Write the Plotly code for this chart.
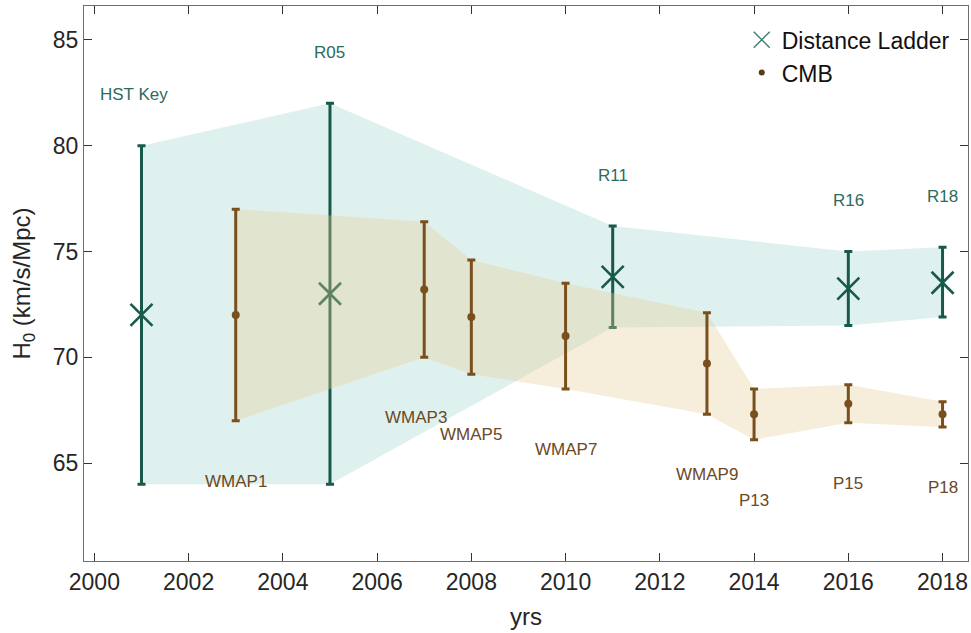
import plotly.graph_objects as go

# Distance ladder measurements
dl_names = ["HST Key", "R05", "R11", "R16", "R18"]
dl_year = [2001, 2005, 2011, 2016, 2018]
dl_h0 = [72.0, 73.0, 73.8, 73.24, 73.52]
dl_lo = [64.0, 64.0, 71.4, 71.5, 71.9]
dl_hi = [80.0, 82.0, 76.2, 75.0, 75.2]

# CMB measurements
cmb_names = ["WMAP1", "WMAP3", "WMAP5", "WMAP7", "WMAP9", "P13", "P15", "P18"]
cmb_year = [2003, 2007, 2008, 2010, 2013, 2014, 2016, 2018]
cmb_h0 = [72.0, 73.2, 71.9, 71.0, 69.7, 67.3, 67.8, 67.3]
cmb_lo = [67.0, 70.0, 69.2, 68.5, 67.3, 66.1, 66.9, 66.7]
cmb_hi = [77.0, 76.4, 74.6, 73.5, 72.1, 68.5, 68.7, 67.9]

x_ticks = [2000, 2002, 2004, 2006, 2008, 2010, 2012, 2014, 2016, 2018]
y_ticks = [65, 70, 75, 80, 85]

DL_COL = "#175a4b"
DL_TXT = "#2d6b5d"
CMB_COL = "#7a4f1e"
CMB_TXT = "#6b4826"
FONT = "Liberation Sans, Arial, sans-serif"

fig = go.Figure()

# teal band
fig.add_trace(go.Scatter(
    x=dl_year + dl_year[::-1], y=dl_hi + dl_lo[::-1],
    fill="toself", fillcolor="rgb(223,241,238)", line=dict(width=0),
    mode="lines", showlegend=False, hoverinfo="skip"))

# distance ladder points
fig.add_trace(go.Scatter(
    x=dl_year, y=dl_h0, mode="markers", name="Distance Ladder", showlegend=False,
    marker=dict(symbol="x-thin", size=22, line=dict(width=2.6, color=DL_COL), color=DL_COL),
    error_y=dict(type="data", symmetric=False,
                 array=[h - v for h, v in zip(dl_hi, dl_h0)],
                 arrayminus=[v - l for v, l in zip(dl_h0, dl_lo)],
                 color=DL_COL, thickness=3, width=4)))

# tan band (semi-transparent, over the distance ladder)
fig.add_trace(go.Scatter(
    x=cmb_year + cmb_year[::-1], y=cmb_hi + cmb_lo[::-1],
    fill="toself", fillcolor="rgba(229,205,153,0.35)", line=dict(width=0),
    mode="lines", showlegend=False, hoverinfo="skip"))

# CMB points
fig.add_trace(go.Scatter(
    x=cmb_year, y=cmb_h0, mode="markers", name="CMB", showlegend=False,
    marker=dict(symbol="circle", size=8, color=CMB_COL),
    error_y=dict(type="data", symmetric=False,
                 array=[h - v for h, v in zip(cmb_hi, cmb_h0)],
                 arrayminus=[v - l for v, l in zip(cmb_h0, cmb_lo)],
                 color=CMB_COL, thickness=3, width=4)))

# legend entries
fig.add_trace(go.Scatter(
    x=[None], y=[None], mode="markers", name="Distance Ladder",
    marker=dict(symbol="x-thin", size=16, line=dict(width=1.4, color="#3f8070"), color="#3f8070")))
fig.add_trace(go.Scatter(
    x=[None], y=[None], mode="markers", name="CMB",
    marker=dict(symbol="circle", size=6, color="#5c3b12")))

ann = []
for n, x, h in zip(dl_names, dl_year, dl_hi):
    ann.append(dict(x=x, y=h + 2.4, text=n, showarrow=False,
                    xshift=-7 if n == "HST Key" else 0,
                    font=dict(family=FONT, size=17, color=DL_TXT)))
for n, x, l in zip(cmb_names, cmb_year, cmb_lo):
    ann.append(dict(x=x, y=l - 2.85, text=n, showarrow=False,
                    xshift=-8 if n == "WMAP3" else 0,
                    font=dict(family=FONT, size=17, color=CMB_TXT)))

axis_common = dict(showline=True, linecolor="#6e6e6e", linewidth=1, mirror="allticks",
                   ticks="inside", ticklen=8, tickcolor="#333333", tickwidth=1,
                   showgrid=False, zeroline=False,
                   tickfont=dict(family=FONT, size=23, color="#262626"))

fig.update_layout(
    width=971, height=633,
    margin=dict(l=84, r=3, t=6, b=72),
    plot_bgcolor="white", paper_bgcolor="white",
    font=dict(family=FONT, color="#262626"),
    annotations=ann,
    legend=dict(x=0.985, xanchor="right", y=0.978, yanchor="top",
                font=dict(family=FONT, size=23, color="#111111"),
                bgcolor="rgba(255,255,255,0)", tracegroupgap=0),
    xaxis=dict(range=[1999.78, 2018.54], tickvals=x_ticks,
               title=dict(text="yrs", font=dict(family=FONT, size=24, color="#262626"), standoff=14),
               **axis_common),
    yaxis=dict(range=[60.37, 86.6], tickvals=y_ticks,
               title=dict(text="H<sub>0</sub> (km/s/Mpc)", font=dict(family=FONT, size=24, color="#262626"), standoff=15),
               **axis_common),
)

fig.write_html("out.html", config={"displayModeBar": False},
               post_script="document.body.style.margin='0';document.body.style.padding='0';")
